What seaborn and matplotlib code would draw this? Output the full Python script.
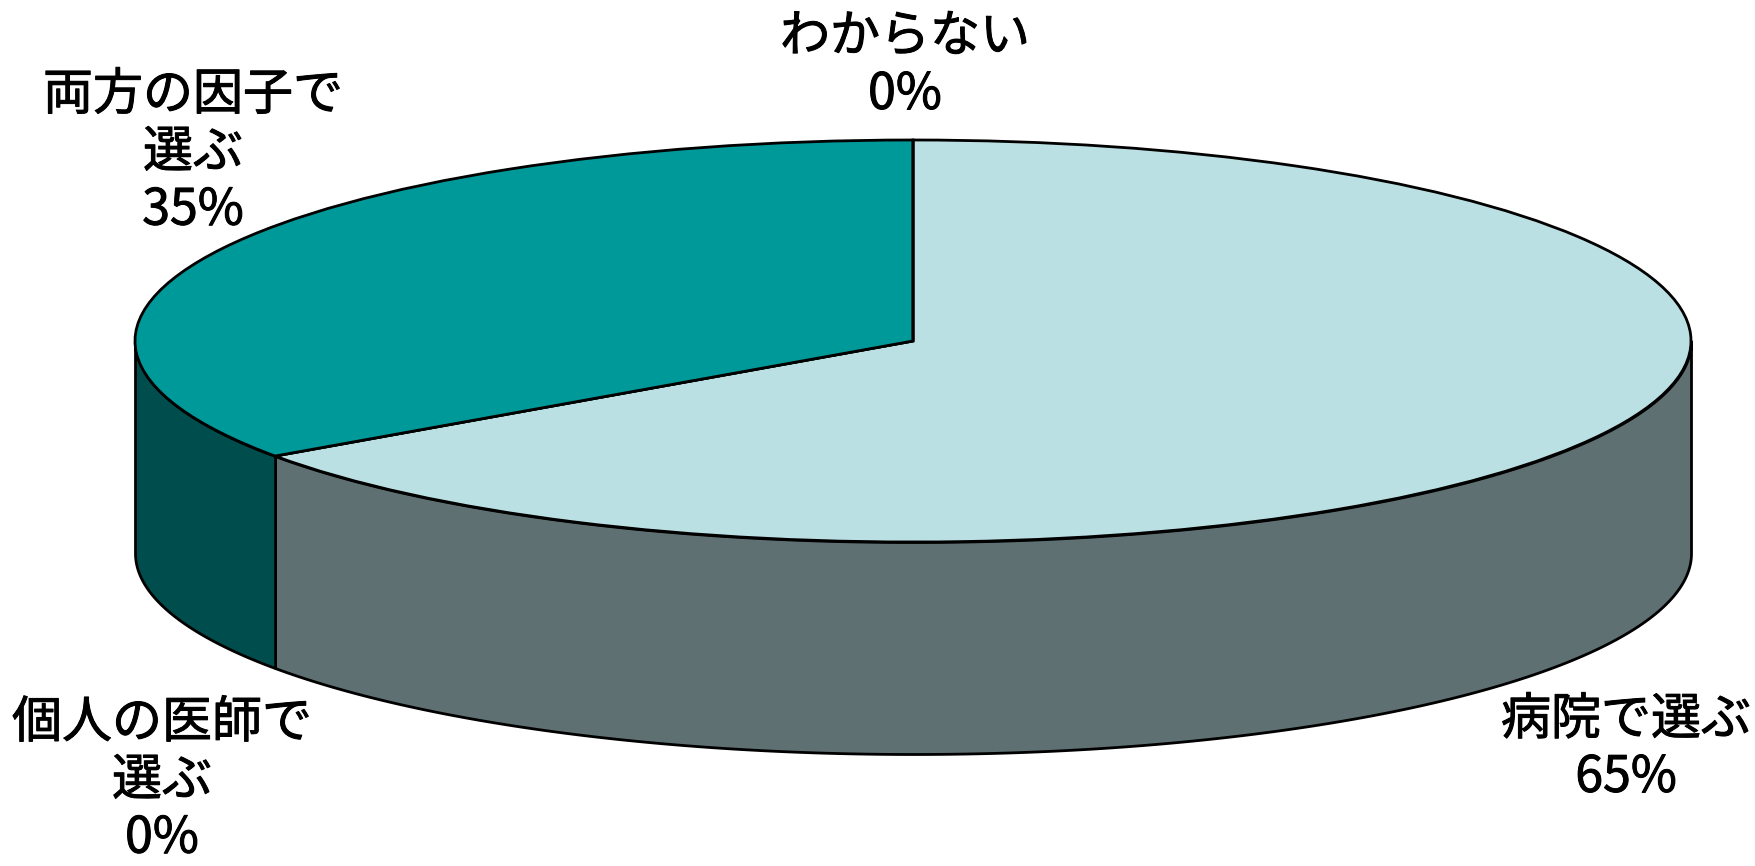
import numpy as np
import matplotlib.pyplot as plt
import matplotlib.patheffects as pe
import seaborn as sns

# labels and shares, in clockwise order from 12 o'clock
labels = ['病院で選ぶ', '個人の医師で\n選ぶ', '両方の因子で\n選ぶ', 'わからない']
shares = [65.3, 0, 34.7, 0]
top_colors = ['#BBE0E3', '#333399', '#009999', '#99CC00']
side_colors = ['#5F7073', '#1A1A4D', '#004D4D', '#4D6600']

sns.set_theme(style='white')
plt.rcParams['font.family'] = ['Noto Sans CJK JP', 'DejaVu Sans']

W, H = 1756, 866
fig = plt.figure(figsize=(W / 100, H / 100), dpi=100)
ax = fig.add_axes([0, 0, 1, 1])

# pie is squashed into an ellipse by the free aspect, pixels as data units
cx, cy, rx, ry, depth = 913, 341, 778, 201, 212

wedges, _ = ax.pie(shares, colors=top_colors, startangle=90, counterclock=False,
                   radius=1, center=(0, 0),
                   wedgeprops=dict(edgecolor='black', linewidth=2))
ax.set_aspect('auto')
ax.set_xlim(-cx / rx, (W - cx) / rx)
ax.set_ylim(-(H - cy) / ry, cy / ry)

# side wall, only the front half of each slice can be seen
dy = depth / ry
start = 0
for share, col in zip(shares, side_colors):
    end = start + share
    a0, a1 = 90 - start * 3.6, 90 - end * 3.6
    start = end
    a0, a1 = min(a0, 0), max(a1, -180)
    if share == 0 or a0 <= a1:
        continue
    t = np.radians(np.linspace(a0, a1, 200))
    ax.fill_between(np.cos(t), np.sin(t), np.sin(t) - dy, color=col,
                    edgecolor='black', linewidth=2, zorder=0.5)

# label placement, in pixels of the picture
pos = [(1626, 749), (162, 781), (193, 153), (905, 66)]
for lab, sh, (px, py) in zip(labels, shares, pos):
    ax.text((px - cx) / rx, (cy - py) / ry, f'{lab}\n{sh:.0f}%', ha='center', va='center',
            fontsize=36, color='black', linespacing=1.14,
            path_effects=[pe.withStroke(linewidth=0.7, foreground='black')])

fig.savefig('out.png', dpi=100, facecolor='white')
